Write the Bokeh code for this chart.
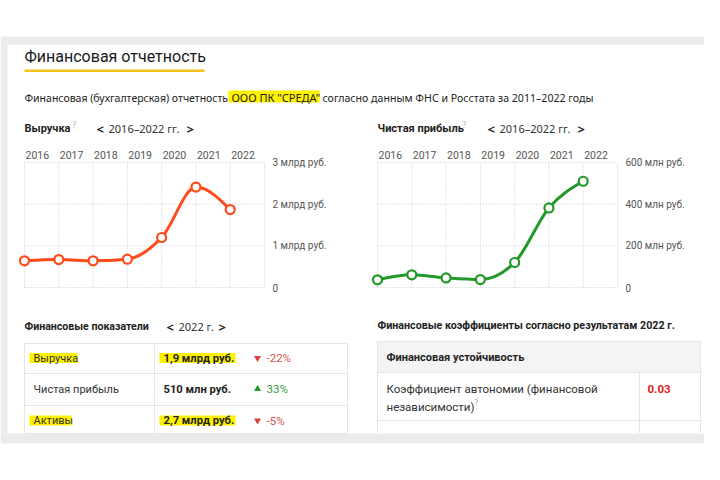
import numpy as np
from bokeh.plotting import figure
from bokeh.models import Range1d
from bokeh.embed import file_html
from bokeh.resources import INLINE
from bokeh.core.properties import value

# ---------------- data ----------------
years = [2016, 2017, 2018, 2019, 2020, 2021, 2022]
revenue_bn = [0.64, 0.67, 0.64, 0.68, 1.20, 2.41, 1.87]
profit_mn = [37, 61, 46, 38, 120, 382, 510]
rev_ticks = [0, 1, 2, 3]
rev_tick_labels = ["0", "1 млрд руб.", "2 млрд руб.", "3 млрд руб."]
prof_ticks = [0, 200, 400, 600]
prof_tick_labels = ["0", "200 млн руб.", "400 млн руб.", "600 млн руб."]
indicators = ["Выручка", "Чистая прибыль", "Активы"]
indicator_values = ["1,9 млрд руб.", "510 млн руб.", "2,7 млрд руб."]
indicator_changes = ["-22%", "33%", "-5%"]
indicator_up = [False, True, False]
indicator_highlight = [True, False, True]
ratio_names = ["Коэффициент автономии (финансовой", "независимости)"]
ratio_values = ["0.03"]

FONT = value("Noto Sans")
BFONT = value("Roboto")
CFONT = value("Roboto")
DARK = "#222222"
GRAY = "#555555"
RED = "#ff4a1a"
GREEN = "#23992a"
YEL = "#fff200"
GRID = "#c8c8c8"
BORDER = "#e6e6e6"

p = figure(width=704, height=464, x_range=Range1d(0, 704), y_range=Range1d(464, 0),
           output_backend="svg", toolbar_location=None, min_border=0,
           x_axis_location=None, y_axis_location=None, outline_line_color=None)
p.grid.visible = False
p.background_fill_color = "white"
p.border_fill_color = "white"


def txt(x, y, s, size=11, color=DARK, style="normal", font=FONT, align="left"):
    p.text(x=[x], y=[y], text=[s], text_font=font, text_font_size=f"{size}px",
           text_color=color, text_font_style=style, text_baseline="middle", text_align=align)


# page background bands
p.quad(left=[0], right=[704], top=[36], bottom=[44], color="#ebebeb", line_color=None)
p.quad(left=[0], right=[7], top=[44], bottom=[433], color="#ebebeb", line_color=None)

# title
txt(24, 56, "Финансовая отчетность", size=16, font=BFONT, color="#1a1a1a")
p.quad(left=[24], right=[204], top=[69], bottom=[71.5], color="#f6c21c", line_color=None)

# subtitle
p.quad(left=[228], right=[319], top=[90], bottom=[102], color=YEL, line_color=None)
txt(24, 97, "Финансовая (бухгалтерская) отчетность", size=10.5)
txt(231, 97, "ООО ПК \"СРЕДА\"", size=11)
txt(322, 97, "согласно данным ФНС и Росстата за 2011–2022 годы", size=10.6)

# chart headers
txt(24, 128, "Выручка", size=11, style="bold", font=BFONT)
txt(72, 124, "?", size=8, color="#aaaaaa")
txt(96, 128, "<", size=13, style="bold")
txt(108, 128, "2016–2022 гг.", size=11, color="#333333")
txt(186, 128, ">", size=13, style="bold")

txt(377, 128, "Чистая прибыль", size=11, style="bold", font=BFONT)
txt(462, 124, "?", size=8, color="#aaaaaa")
txt(487, 128, "<", size=13, style="bold")
txt(499, 128, "2016–2022 гг.", size=11, color="#333333")
txt(577, 128, ">", size=13, style="bold")


def monotone_bezier(xs, ys):
    xs = np.asarray(xs, float)
    ys = np.asarray(ys, float)
    n = len(xs)
    h = np.diff(xs)
    s = np.diff(ys) / h
    t = np.zeros(n)
    for i in range(1, n - 1):
        s0, s1 = s[i - 1], s[i]
        pp = (s0 * h[i] + s1 * h[i - 1]) / (h[i - 1] + h[i])
        t[i] = (np.sign(s0) + np.sign(s1)) * min(abs(s0), abs(s1), 0.5 * abs(pp))
    t[0] = (3 * s[0] - t[1]) / 2
    t[-1] = (3 * s[-1] - t[-2]) / 2
    return dict(x0=xs[:-1], y0=ys[:-1], x1=xs[1:], y1=ys[1:],
                cx0=xs[:-1] + h / 3, cy0=ys[:-1] + t[:-1] * h / 3,
                cx1=xs[1:] - h / 3, cy1=ys[1:] - t[1:] * h / 3)


def chart(x_left, x_right, vals, ticks, tick_labels, color):
    last = years[-1] + 1
    sp = p.subplot(x_source=Range1d(years[0], last), y_source=Range1d(ticks[0], ticks[-1]),
                   x_target=Range1d(x_left, x_right), y_target=Range1d(287, 162))
    gx = years + [last]
    sp.segment(x0=gx, x1=gx, y0=[ticks[0]] * len(gx), y1=[ticks[-1]] * len(gx),
               line_color=GRID, line_width=1, line_dash="1 2")
    sp.segment(x0=[years[0]] * len(ticks), x1=[last] * len(ticks), y0=ticks, y1=ticks,
               line_color=GRID, line_width=1, line_dash="1 2")
    sp.text(x=years, y=[ticks[-1]] * len(years), text=[str(y) for y in years],
            text_font=CFONT, text_font_size="10.5px", text_color=GRAY,
            text_baseline="middle", text_align="left", x_offset=1, y_offset=-8)
    sp.text(x=[last] * len(ticks), y=ticks, text=tick_labels,
            text_font=CFONT, text_font_size="10px", text_color=GRAY,
            text_baseline="middle", text_align="left", x_offset=8)
    b = monotone_bezier(years, vals)
    sp.bezier(line_color=color, line_width=3, **b)
    sp.scatter(x=years, y=vals, size=9, fill_color="white", line_color=color, line_width=2.2)


chart(24, 264, revenue_bn, rev_ticks, rev_tick_labels, RED)
chart(377, 617, profit_mn, prof_ticks, prof_tick_labels, GREEN)

# ---- financial indicators table ----
txt(24, 326, "Финансовые показатели", size=10.6, style="bold", font=BFONT)
txt(166, 326, "<", size=13, style="bold")
txt(178, 326, "2022 г.", size=11, color="#333333")
txt(218, 326, ">", size=13, style="bold")

row_tops = [343, 373, 405]
row_bots = [373, 405, 436]
p.quad(left=[24], right=[347], top=[343], bottom=[433], fill_color="white",
       line_color=BORDER, line_width=1)
for yt in row_tops[1:]:
    p.segment(x0=[24], x1=[347], y0=[yt], y1=[yt], line_color=BORDER, line_width=1)
p.segment(x0=[154], x1=[154], y0=[343], y1=[433], line_color=BORDER, line_width=1)
hl_right = {"Выручка": 77, "Активы": 71}
for i, (nm, v, ch, up, hl) in enumerate(zip(indicators, indicator_values, indicator_changes,
                                             indicator_up, indicator_highlight)):
    yc = (row_tops[i] + row_bots[i]) / 2 - 0.5
    if hl:
        p.quad(left=[29], right=[hl_right.get(nm, 77)], top=[yc - 5], bottom=[yc + 5],
               color=YEL, line_color=None)
        p.quad(left=[159], right=[235], top=[yc - 5], bottom=[yc + 5],
               color=YEL, line_color=None)
    txt(33, yc, nm, size=11, color="#333333", font=CFONT)
    txt(163, yc, v, size=11.2, style="bold", font=BFONT)
    c = GREEN if up else "#d9403a"
    p.scatter(x=[257], y=[yc], marker="triangle" if up else "inverted_triangle",
              size=7, color=c, line_color=None)
    txt(266, yc, ch, size=11.5, color="#3a9a3a" if up else "#d9534f", font=CFONT)

# ---- ratios table ----
txt(377, 325, "Финансовые коэффициенты согласно результатам 2022 г.", size=10.7,
    style="bold", font=BFONT)
p.quad(left=[377], right=[700], top=[341], bottom=[372], fill_color="#f4f4f4",
       line_color=BORDER, line_width=1)
txt(386, 357, "Финансовая устойчивость", size=11, style="bold", font=BFONT)
p.quad(left=[377], right=[700], top=[372], bottom=[420], fill_color="white",
       line_color=BORDER, line_width=1)
p.segment(x0=[639], x1=[639], y0=[372], y1=[433], line_color=BORDER, line_width=1)
p.segment(x0=[377, 700], x1=[377, 700], y0=[420, 420], y1=[433, 433],
          line_color=BORDER, line_width=1)
txt(386, 388, ratio_names[0], size=11.5, color="#333333", font=CFONT)
txt(386, 406, ratio_names[1], size=11.5, color="#333333", font=CFONT)
txt(474, 402, "?", size=8, color="#aaaaaa")
txt(647, 388, ratio_values[0], size=11.5, color="#e0211b", style="bold", font=BFONT)

# bottom band on top
p.quad(left=[0], right=[704], top=[433], bottom=[443], color="#ebebeb", line_color=None)

open("out.html", "w").write(file_html(p, INLINE))
